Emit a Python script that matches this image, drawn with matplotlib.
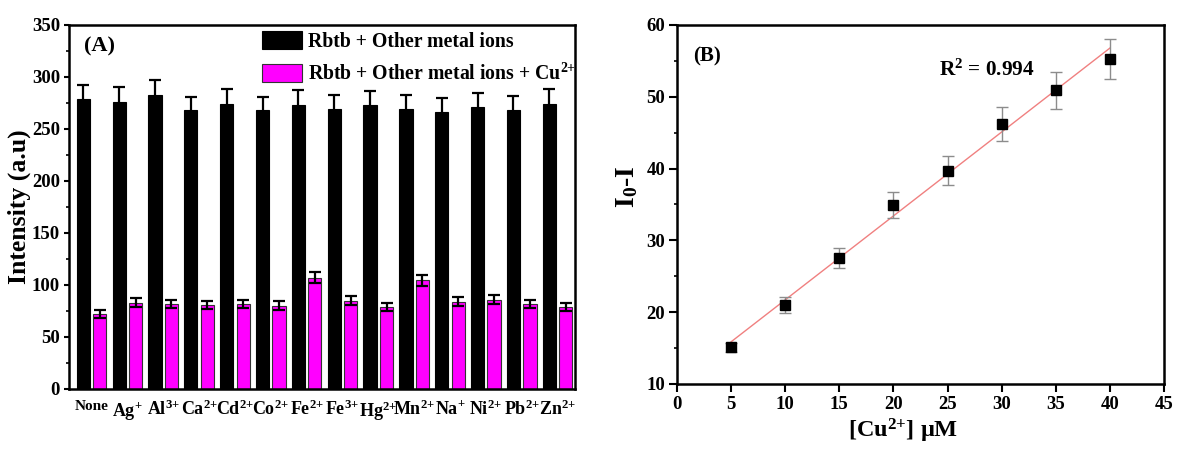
import numpy as np
import matplotlib
matplotlib.use("Agg")
import matplotlib.pyplot as plt
from matplotlib.ticker import MultipleLocator

plt.rcParams["font.family"] = ["Liberation Serif", "DejaVu Serif"]
plt.rcParams["font.weight"] = "bold"
plt.rcParams["axes.labelweight"] = "bold"
plt.rcParams["mathtext.fontset"] = "custom"
plt.rcParams["mathtext.rm"] = "Liberation Serif:bold"
plt.rcParams["mathtext.bf"] = "Liberation Serif:bold"
plt.rcParams["mathtext.it"] = "Liberation Serif:bold"

# ---- Panel A: selectivity data ----
ions = ["None", "Ag$^{{+}}$", "Al$^{3{+}}$", "Ca$^{2{+}}$", "Cd$^{2{+}}$", "Co$^{2{+}}$",
        "Fe$^{2{+}}$", "Fe$^{3{+}}$", "Hg$^{2{+}}$", "Mn$^{2{+}}$", "Na$^{{+}}$",
        "Ni$^{2{+}}$", "Pb$^{2{+}}$", "Zn$^{2{+}}$"]
intensity_ions = [278.5, 276.3, 283.0, 268.0, 274.4, 268.0, 273.4, 269.6,
                  272.8, 269.6, 266.7, 271.0, 268.3, 274.0]
err_ions = [14, 14, 14, 13, 14, 13, 14, 13, 14, 13, 13, 14, 13, 14]
intensity_cu = [72.0, 83.0, 81.8, 80.5, 81.8, 80.2, 107.0, 85.0, 78.6,
                104.5, 84.0, 86.0, 81.5, 78.6]
err_cu = [3.5, 4, 4, 4, 4, 4, 5.5, 4, 4, 5.5, 4, 4, 4, 4]

# ---- Panel B: calibration data ----
cu_conc = [5, 10, 15, 20, 25, 30, 35, 40]
quench = [15.1, 21.0, 27.6, 34.9, 39.7, 46.2, 50.9, 55.2]
quench_err = [0.6, 1.05, 1.4, 1.8, 2.0, 2.35, 2.55, 2.8]

fig = plt.figure(figsize=(11.77, 4.5), dpi=100)
axA = fig.add_axes([0.0586, 0.1356, 0.430, 0.809])
axB = fig.add_axes([0.5752, 0.1467, 0.4138, 0.798])

x = np.arange(len(ions))
w = 0.37
off = 0.23
axA.bar(x - off, intensity_ions, w, color="black", edgecolor="black",
        linewidth=0.8, label="Rbtb + Other metal ions", zorder=2)
axA.bar(x + off, intensity_cu, w, color="#ff00ff", edgecolor="#333333",
        linewidth=0.8, label="Rbtb + Other metal ions + Cu$^{2{+}}$", zorder=2)
axA.errorbar(x - off, intensity_ions, yerr=err_ions, fmt="none", ecolor="black",
             elinewidth=1.6, capsize=4, capthick=1.6, zorder=3)
axA.errorbar(x + off, intensity_cu, yerr=err_cu, fmt="none", ecolor="black",
             elinewidth=1.6, capsize=4, capthick=1.6, zorder=3)

axA.set_xlim(-0.63, 13.49)
axA.set_ylim(0, 350)
axA.yaxis.set_major_locator(MultipleLocator(50))
axA.yaxis.set_minor_locator(MultipleLocator(25))
axA.set_xticks(x)
axA.set_xticklabels(ions, fontsize=13)
axA.get_xticklabels()[0].set_fontsize(11)
axA.tick_params(axis="x", length=0, pad=8)
axA.tick_params(axis="y", which="major", direction="out", length=3.5, width=1.5,
                labelsize=13.5, pad=3)
axA.tick_params(axis="y", which="minor", direction="out", length=2.2, width=1.2)
for s in axA.spines.values():
    s.set_linewidth(1.8)
axA.set_ylabel("Intensity (a.u)", fontsize=18.5)
axA.yaxis.set_label_coords(-0.075, 0.5)
axA.text(0.030, 0.94, "(A)", transform=axA.transAxes, fontsize=16,
         fontweight="bold", va="center")
axA.legend(loc="upper left", bbox_to_anchor=(0.347, 1.032), frameon=False,
           fontsize=14.2, handlelength=2.0, handleheight=1.0, labelspacing=0.6,
           handletextpad=0.3, borderpad=0.4)

# Panel B
slope, intercept = np.polyfit(cu_conc, quench, 1)
xf = np.array([cu_conc[0], cu_conc[-1]])
axB.plot(xf, slope * xf + intercept, color="#f08080", linewidth=1.0, zorder=2)
axB.errorbar(cu_conc, quench, yerr=quench_err, fmt="s", color="black",
             markersize=6.5, ecolor="#8c8c8c", elinewidth=1.0, capsize=4,
             capthick=1.0, zorder=3)
axB.set_xlim(0, 45)
axB.set_ylim(10, 60)
axB.xaxis.set_major_locator(MultipleLocator(5))
axB.yaxis.set_major_locator(MultipleLocator(10))
axB.yaxis.set_minor_locator(MultipleLocator(5))
axB.tick_params(axis="both", which="major", direction="out", length=5.5,
                width=1.5, labelsize=13.5, pad=3)
axB.tick_params(axis="y", which="minor", direction="out", length=2.5, width=1.2)
for s in axB.spines.values():
    s.set_linewidth(1.8)
axB.set_xlabel("[Cu$^{2{+}}$] μM", fontsize=17.5)
axB.xaxis.set_label_coords(0.464, -0.092)
axB.set_ylabel("I$_{0}$-I", fontsize=20)
axB.yaxis.set_label_coords(-0.076, 0.549)
axB.text(0.033, 0.911, "(B)", transform=axB.transAxes, fontsize=15,
         fontweight="bold", va="center")
axB.text(0.538, 0.875, "R$^{2}$ = 0.994", transform=axB.transAxes, fontsize=15.3,
         fontweight="bold", va="center")

fig.savefig("out.png", dpi=100)
